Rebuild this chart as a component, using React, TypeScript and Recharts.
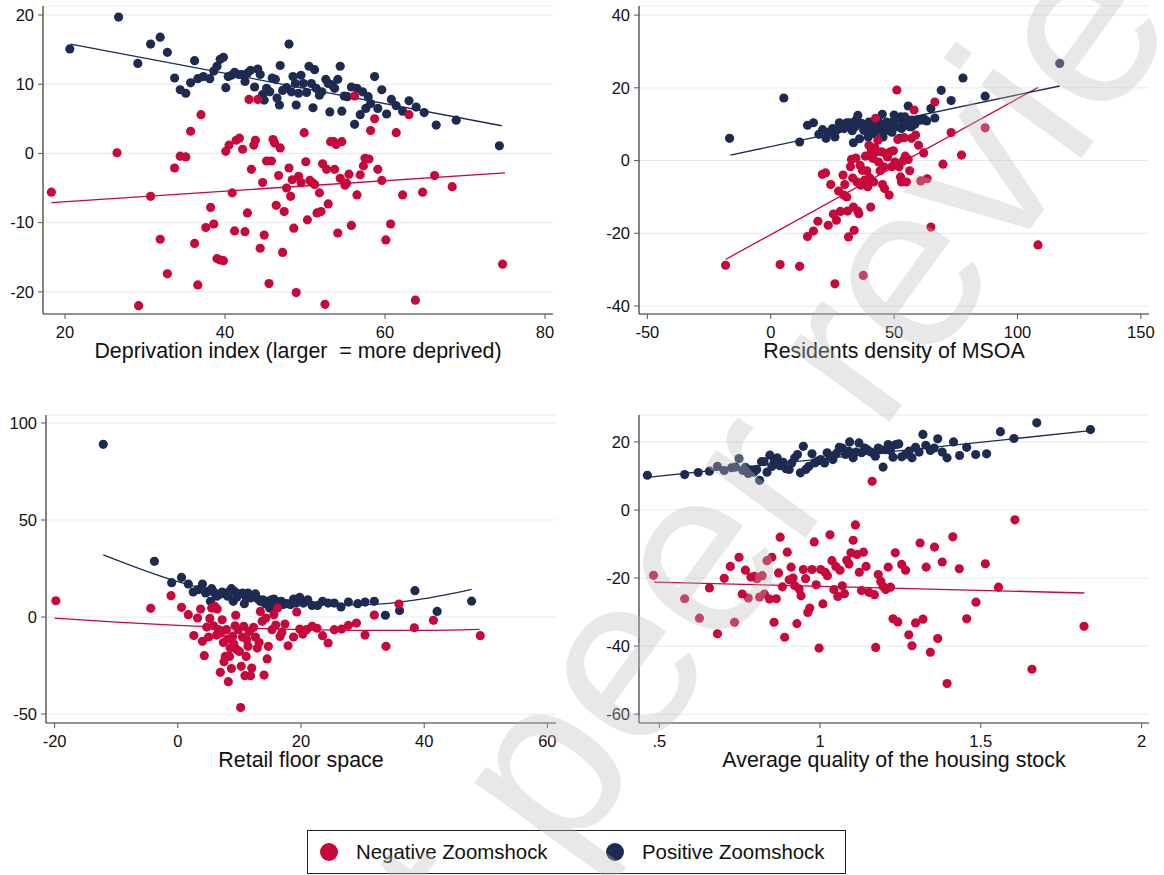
import { ComposedChart, Scatter, Line, XAxis, YAxis, ZAxis, CartesianGrid, Label } from 'recharts';

type Pt = [number, number];

const NEG = '#c8073a';
const POS = '#1d2b52';
const FONT = '"Liberation Sans", Arial, sans-serif';

// Deprivation index panel
const deprivationPos: Pt[] = [
    [20.6, 15.1], [26.7, 19.7], [29.1, 13.0], [30.7, 15.8], [31.9, 16.8], [32.8, 14.6], [33.7, 10.9], [34.4, 9.2],
    [35.1, 8.7], [35.7, 10.2], [36.2, 13.4], [36.6, 10.8], [37.3, 11.1], [38.1, 10.8], [38.6, 11.9], [39.0, 12.6],
    [39.4, 13.6], [39.8, 13.9], [40.1, 9.5], [40.4, 11.1], [40.8, 11.3], [41.2, 11.7], [41.7, 11.4], [42.1, 11.4],
    [42.5, 10.4], [42.8, 11.6], [43.2, 12.0], [43.7, 9.6], [44.1, 12.2], [44.4, 11.4], [44.7, 8.5], [44.9, 7.7],
    [45.2, 9.4], [45.6, 8.9], [45.9, 10.9], [46.3, 10.7], [46.5, 8.0], [46.8, 7.0], [46.9, 12.7], [47.2, 9.1],
    [47.7, 9.5], [48.0, 15.8], [48.3, 8.9], [48.5, 11.1], [48.8, 10.1], [48.9, 7.0], [49.2, 8.7], [49.5, 11.3],
    [49.8, 10.1], [50.2, 8.8], [50.5, 12.6], [50.8, 10.1], [51.0, 6.6], [51.2, 12.1], [51.4, 9.4], [51.8, 8.4],
    [52.1, 8.9], [52.6, 10.7], [52.9, 10.1], [53.1, 6.0], [53.4, 9.9], [53.7, 9.4], [54.1, 10.7], [54.4, 12.6],
    [54.6, 6.1], [54.9, 8.3], [55.3, 8.2], [55.8, 9.6], [56.2, 4.2], [56.5, 9.4], [56.9, 5.6], [57.2, 8.9],
    [57.6, 6.5], [57.9, 8.2], [58.2, 7.2], [58.7, 11.1], [59.1, 6.5], [59.6, 9.2], [60.2, 5.7], [60.8, 7.8],
    [61.4, 6.9], [62.2, 6.1], [63.0, 7.6], [63.9, 6.7], [64.9, 5.9], [66.4, 4.1], [68.9, 4.8], [74.3, 1.1],
];
const deprivationNeg: Pt[] = [
    [18.3, -5.6], [26.5, 0.1], [29.2, -22.0], [30.7, -6.2], [31.9, -12.4], [32.8, -17.4], [33.7, -2.1], [34.4, -0.4],
    [35.1, -0.5], [35.7, 3.2], [36.2, -13.0], [36.6, -19.0], [37.0, 5.6], [37.6, -10.7], [38.2, -7.8], [38.6, -10.2],
    [39.0, -15.2], [39.4, -15.4], [39.8, -15.5], [40.1, 0.3], [40.5, 1.2], [40.9, -5.7], [41.2, -11.2], [41.4, 1.9],
    [41.8, 2.2], [42.2, 0.6], [42.5, -11.3], [42.8, -8.6], [43.0, 7.8], [43.3, -2.3], [43.6, 1.2], [43.8, 1.9],
    [44.1, 7.8], [44.4, -13.7], [44.7, -4.2], [44.9, -11.8], [45.2, -1.1], [45.5, -18.8], [45.8, -1.1], [46.0, 2.0],
    [46.2, 1.5], [46.4, -7.5], [46.7, -3.2], [46.9, 0.8], [47.2, -14.3], [47.4, -8.4], [47.7, -5.0], [48.0, -2.1],
    [48.2, -6.2], [48.4, -3.8], [48.6, -10.8], [48.9, -20.1], [49.2, -3.3], [49.5, -4.2], [49.9, 3.0], [50.1, -1.2],
    [50.3, -9.6], [50.6, -3.9], [50.9, -4.2], [51.2, -4.5], [51.5, -8.6], [51.8, -5.7], [52.0, -8.4], [52.2, -1.5],
    [52.5, -21.8], [52.7, -2.3], [52.9, -7.3], [53.2, 1.7], [53.6, 1.7], [53.9, 1.3], [53.7, -2.3], [54.1, -11.5],
    [54.4, -3.6], [54.6, 1.7], [55.0, -4.6], [55.2, -4.3], [55.5, -3.0], [55.8, -10.4], [56.2, 8.3], [56.5, -6.0],
    [56.9, -3.1], [57.3, -1.8], [57.5, -0.7], [58.0, -0.8], [58.2, 3.3], [58.7, 5.0], [59.1, -2.3], [59.6, -3.9],
    [60.1, -12.5], [60.7, -10.2], [61.4, 3.0], [62.2, -6.0], [63.0, 5.6], [63.8, -21.2], [64.7, -5.6], [66.2, -3.2],
    [68.4, -4.8], [74.7, -16.0],
];
const deprivationPosFit: Pt[] = [[20.7, 15.8], [74.6, 4.0]];
const deprivationNegFit: Pt[] = [[18.3, -7.1], [75.0, -2.8]];

// Residents density panel
const densityPos: Pt[] = [
    [-16.7, 6.1], [5.3, 17.2], [11.7, 5.1], [14.9, 9.7], [17.3, 10.4], [19.5, 7.2], [21.0, 8.5], [22.4, 6.1],
    [23.6, 7.8], [25.1, 8.8], [26.0, 6.5], [27.0, 8.5], [27.8, 10.4], [28.4, 9.4], [29.6, 9.7], [29.7, 8.8],
    [30.8, 10.4], [31.5, 9.7], [32.0, 10.4], [33.0, 8.2], [33.5, 4.9], [34.2, 9.3], [34.5, 11.1], [35.3, 12.4],
    [36.0, 6.0], [36.8, 10.2], [37.5, 9.7], [37.7, 8.3], [38.6, 9.3], [39.5, 6.5], [39.8, 10.6], [40.4, 8.3],
    [41.3, 10.0], [41.7, 10.6], [42.0, 7.4], [42.8, 9.3], [43.7, 10.6], [44.0, 9.4], [44.6, 8.5], [45.2, 12.7],
    [45.5, 6.5], [46.1, 10.0], [46.7, 8.8], [47.0, 10.6], [47.6, 8.3], [48.5, 9.4], [49.1, 7.8], [49.5, 10.6],
    [50.0, 12.5], [50.6, 9.3], [51.5, 11.6], [52.1, 6.1], [52.7, 12.0], [53.0, 8.8], [53.6, 10.0], [54.4, 12.0],
    [55.3, 10.6], [55.7, 15.0], [56.3, 9.3], [57.0, 9.3], [57.2, 11.1], [58.4, 10.0], [59.6, 11.1], [60.8, 11.1],
    [62.0, 11.5], [63.2, 10.9], [64.9, 14.3], [66.5, 11.7], [69.1, 19.3], [73.1, 16.5], [77.9, 22.7], [86.9, 17.7],
    [117.1, 26.7],
];
const densityNeg: Pt[] = [
    [-18.3, -28.8], [3.8, -28.6], [11.7, -29.1], [14.9, -20.9], [17.3, -19.4], [19.1, -16.7], [20.9, -3.8], [22.2, -3.4],
    [23.3, -17.8], [24.3, -6.6], [25.4, -14.7], [26.0, -33.9], [26.6, -16.4], [27.5, -8.4], [28.2, -14.0], [29.3, -4.0],
    [29.6, -9.5], [30.0, -6.6], [30.8, -10.0], [31.1, -13.9], [31.5, -21.0], [32.3, -1.7], [32.7, 0.3], [33.2, -4.8],
    [33.5, -12.8], [33.8, -19.2], [34.5, 0.7], [35.0, -5.9], [35.3, -13.9], [35.7, -14.6], [36.2, -1.3], [36.5, -6.8],
    [37.1, -2.7], [37.5, -31.6], [38.0, -5.4], [38.4, 1.2], [38.9, -2.8], [39.3, -7.2], [39.8, 4.2], [40.1, -4.7],
    [40.5, -12.8], [40.8, 2.8], [41.3, 0.6], [41.7, -5.9], [42.2, 3.5], [42.5, 11.6], [42.8, 2.4], [43.4, 5.6],
    [43.7, -0.4], [44.3, -2.8], [44.9, 2.4], [45.3, -6.6], [45.8, -1.7], [46.1, -7.7], [46.7, 1.9], [47.3, 1.0],
    [48.0, -9.5], [48.5, 2.4], [49.1, -1.7], [49.7, 2.7], [50.3, -0.4], [51.1, 19.4], [51.5, 5.8], [52.0, -1.7],
    [52.6, -4.5], [53.0, -5.9], [53.6, -0.1], [54.1, 6.3], [54.5, 1.2], [55.0, -5.9], [55.7, 0.3], [56.3, -2.8],
    [57.1, 6.1], [58.1, 13.9], [58.7, 7.0], [59.9, 4.2], [60.8, -5.6], [62.0, 2.1], [63.4, -5.0], [64.9, -18.3],
    [66.5, 16.1], [69.8, -1.0], [73.1, 7.7], [77.3, 1.5], [86.9, 9.0], [108.3, -23.2],
];
const densityPosFit: Pt[] = [[-16.4, 1.5], [117.1, 20.5]];
const densityNegFit: Pt[] = [[-18.3, -27.2], [108.3, 20.1]];

// Retail floor space panel
const retailPos: Pt[] = [
    [-12.1, 89.0], [-3.8, 28.7], [-1.0, 17.7], [0.6, 20.4], [1.7, 17.0], [2.5, 12.9], [3.3, 14.1], [4.0, 17.0],
    [4.5, 12.4], [4.9, 13.2], [5.3, 8.1], [5.5, 14.6], [5.9, 12.7], [6.3, 10.7], [6.7, 11.5], [7.2, 12.9],
    [7.6, 12.0], [8.1, 10.7], [8.4, 13.2], [8.7, 14.6], [9.0, 8.1], [9.2, 13.2], [9.6, 10.3], [10.0, 12.0],
    [10.5, 12.4], [10.8, 6.9], [11.0, 10.7], [11.4, 12.4], [11.8, 9.8], [12.2, 10.7], [12.6, 11.9], [13.0, 9.3],
    [13.4, 8.1], [13.8, 8.9], [14.2, 6.9], [14.6, 8.1], [14.9, 4.6], [15.2, 8.9], [15.6, 9.3], [16.0, 6.9],
    [16.4, 7.7], [16.8, 8.1], [17.1, 6.4], [17.7, 6.9], [18.3, 6.4], [18.8, 9.3], [19.2, 7.2], [19.8, 10.1],
    [20.4, 7.2], [21.1, 8.9], [21.8, 6.0], [22.7, 6.0], [23.5, 8.1], [24.4, 7.2], [25.4, 7.2], [26.5, 5.2],
    [27.7, 7.7], [29.2, 6.9], [30.4, 7.7], [31.9, 8.1], [33.7, 0.9], [36.0, 3.3], [38.5, 13.6], [42.1, 2.9],
    [47.7, 8.2],
];
const retailNeg: Pt[] = [
    [-19.8, 8.4], [-4.4, 4.5], [-1.1, 11.0], [0.6, 5.0], [1.7, 1.2], [2.6, -9.5], [3.2, -0.5], [3.7, 4.1],
    [4.0, -12.5], [4.3, -19.9], [4.7, -5.2], [5.0, -10.3], [5.2, -0.7], [5.5, 4.6], [5.8, -4.5], [6.0, 5.5],
    [6.3, -9.3], [6.4, 4.1], [6.6, -6.5], [6.9, -28.5], [7.0, -8.2], [7.2, -1.4], [7.4, -13.1], [7.5, -23.0],
    [7.7, -20.3], [7.9, -6.5], [8.1, -11.3], [8.2, -33.3], [8.4, -20.3], [8.5, -16.0], [8.7, -26.5], [8.9, -10.0],
    [9.1, -13.9], [9.3, -4.5], [9.4, 0.9], [9.6, -16.8], [9.8, -6.5], [10.0, -17.7], [10.2, -46.6], [10.3, -25.4],
    [10.5, -10.3], [10.7, -4.8], [10.9, -30.2], [11.1, -20.3], [11.2, -11.7], [11.4, -15.1], [11.6, -7.4], [11.8, -30.2],
    [12.0, -26.3], [12.3, -5.3], [12.6, -10.3], [12.9, -16.0], [13.2, -13.1], [13.4, 2.9], [13.7, -2.2], [14.0, -29.9],
    [14.3, -0.5], [14.5, -21.6], [14.7, -15.1], [15.3, -6.5], [15.6, 1.2], [15.9, -4.1], [16.2, 4.6], [16.6, -10.0],
    [16.9, -7.9], [17.4, -3.6], [17.9, -14.8], [18.8, -10.3], [19.3, 2.6], [19.8, -6.2], [20.3, -8.8], [20.9, -6.5],
    [21.8, -4.8], [22.6, -5.8], [23.5, -9.6], [24.4, -13.4], [25.4, -6.5], [26.6, -6.2], [27.7, -4.3], [29.0, -3.1],
    [30.4, -9.3], [31.9, 1.0], [33.8, -15.1], [35.9, 6.7], [38.4, -5.5], [41.5, -1.7], [49.1, -9.6],
];
const retailPosFit: Pt[] = [[-12.1, 32.0], [0, 18.2], [10, 10.6], [20, 6.7], [30, 6.3], [40, 9.5], [47.7, 14.3]];
const retailNegFit: Pt[] = [[-20, -0.6], [-10, -2.6], [0, -4.3], [10, -5.6], [20, -6.5], [30, -6.9], [40, -6.9], [49, -6.4]];

// Housing quality panel
const housingPos: Pt[] = [
    [0.463, 10.2], [0.579, 10.4], [0.621, 11.0], [0.656, 11.4], [0.681, 12.8], [0.702, 11.6], [0.725, 12.4], [0.737, 12.6],
    [0.748, 15.1], [0.760, 11.6], [0.768, 12.5], [0.777, 10.7], [0.785, 11.7], [0.794, 11.1], [0.803, 11.9], [0.812, 8.7],
    [0.818, 14.2], [0.826, 14.2], [0.835, 11.1], [0.844, 16.1], [0.850, 12.8], [0.858, 14.3], [0.867, 15.3], [0.875, 13.0],
    [0.885, 14.0], [0.894, 12.1], [0.904, 11.9], [0.912, 13.8], [0.921, 15.3], [0.930, 16.3], [0.939, 10.9], [0.948, 18.7],
    [0.956, 11.9], [0.965, 12.8], [0.975, 16.5], [0.983, 13.8], [0.991, 14.3], [1.002, 14.8], [1.014, 13.8], [1.022, 16.8],
    [1.031, 15.8], [1.040, 14.8], [1.051, 16.6], [1.060, 18.4], [1.069, 18.2], [1.079, 16.3], [1.089, 17.3], [1.092, 20.0],
    [1.103, 15.3], [1.112, 17.0], [1.121, 19.7], [1.129, 16.8], [1.139, 18.2], [1.147, 17.7], [1.158, 17.0], [1.172, 15.8],
    [1.181, 18.2], [1.189, 17.7], [1.196, 12.6], [1.204, 17.7], [1.212, 19.2], [1.219, 17.5], [1.227, 15.5], [1.236, 19.2],
    [1.245, 19.4], [1.254, 15.6], [1.266, 16.3], [1.277, 17.3], [1.286, 15.3], [1.297, 18.4], [1.308, 17.0], [1.320, 22.2],
    [1.329, 19.0], [1.343, 17.5], [1.355, 18.2], [1.366, 20.9], [1.380, 17.0], [1.395, 15.3], [1.415, 20.0], [1.434, 16.0],
    [1.456, 18.4], [1.484, 16.3], [1.518, 16.5], [1.561, 23.0], [1.603, 21.0], [1.674, 25.6], [1.841, 23.6],
];
const housingNeg: Pt[] = [
    [0.482, -19.2], [0.579, -26.1], [0.625, -31.8], [0.656, -22.9], [0.681, -36.4], [0.702, -20.1], [0.721, -16.6], [0.734, -33.0],
    [0.748, -13.9], [0.758, -24.7], [0.768, -17.7], [0.777, -25.9], [0.785, -19.7], [0.797, -19.5], [0.804, -20.2], [0.812, -25.6],
    [0.820, -19.3], [0.827, -24.7], [0.835, -14.9], [0.843, -26.2], [0.850, -13.9], [0.857, -33.0], [0.864, -26.1], [0.871, -18.5],
    [0.876, -8.0], [0.883, -22.6], [0.890, -37.4], [0.898, -12.4], [0.904, -20.5], [0.910, -16.8], [0.916, -20.0], [0.921, -22.2],
    [0.928, -33.4], [0.935, -23.2], [0.941, -25.2], [0.948, -17.5], [0.955, -20.2], [0.962, -30.1], [0.968, -28.8], [0.975, -17.5],
    [0.982, -9.4], [0.988, -22.0], [0.997, -40.6], [1.002, -17.5], [1.009, -27.6], [1.016, -18.3], [1.023, -19.3], [1.031, -7.3],
    [1.037, -14.9], [1.043, -23.4], [1.049, -16.6], [1.055, -25.4], [1.062, -17.7], [1.069, -22.3], [1.076, -24.6], [1.083, -14.8],
    [1.090, -15.9], [1.096, -12.6], [1.103, -8.9], [1.110, -4.4], [1.115, -13.1], [1.122, -18.3], [1.129, -23.7], [1.135, -12.4],
    [1.143, -16.6], [1.152, -24.2], [1.162, 8.4], [1.169, -24.9], [1.173, -40.4], [1.181, -19.0], [1.189, -21.0], [1.196, -22.5],
    [1.204, -23.4], [1.212, -16.8], [1.219, -22.7], [1.227, -32.0], [1.234, -12.6], [1.242, -32.9], [1.254, -16.0], [1.266, -17.7],
    [1.276, -36.7], [1.286, -39.9], [1.297, -33.2], [1.311, -9.7], [1.320, -32.1], [1.330, -16.8], [1.343, -41.8], [1.356, -10.9],
    [1.366, -37.8], [1.380, -15.3], [1.395, -51.0], [1.413, -7.9], [1.433, -17.3], [1.456, -32.0], [1.485, -27.1], [1.514, -15.8],
    [1.555, -22.7], [1.606, -2.9], [1.659, -46.8], [1.821, -34.2],
];
const housingPosFit: Pt[] = [[0.463, 9.6], [1.841, 23.3]];
const housingNegFit: Pt[] = [[0.483, -21.2], [1.822, -24.4]];

const deprivationXTicks = [20, 40, 60, 80];
const deprivationYTicks = [-20, -10, 0, 10, 20];
const densityXTicks = [-50, 0, 50, 100, 150];
const densityYTicks = [-40, -20, 0, 20, 40];
const retailXTicks = [-20, 0, 20, 40, 60];
const retailYTicks = [-50, 0, 50, 100];
const housingXTicks = [0.5, 1, 1.5, 2];
const housingXLabels = ['.5', '1', '1.5', '2'];
const housingYTicks = [-60, -40, -20, 0, 20];

const toXY = (pts: Pt[]) => pts.map(([x, y]) => ({ x, y }));

const Y_W = 50;
const M_TOP = 10;
const M_RIGHT = 14;
const X_H = 60;

type PanelProps = {
    left: number;
    top: number;
    plotW: number;
    plotH: number;
    xDomain: [number, number];
    yDomain: [number, number];
    xTicks: number[];
    yTicks: number[];
    xLabels?: string[];
    title: string;
    neg: Pt[];
    pos: Pt[];
    negFit: Pt[];
    posFit: Pt[];
    curved?: boolean;
};

function Panel(p: PanelProps) {
    const tickStyle = { fontSize: 16.5, fill: '#111', fontFamily: FONT };
    return (
        <div style={{ position: 'absolute', left: p.left - Y_W, top: p.top - M_TOP }}>
            <ComposedChart
                width={Y_W + p.plotW + M_RIGHT}
                height={M_TOP + p.plotH + X_H}
                margin={{ top: M_TOP, right: M_RIGHT, left: 0, bottom: 0 }}
            >
                <CartesianGrid vertical={false} stroke='#e3ecef' strokeWidth={1} />
                <XAxis
                    dataKey='x'
                    type='number'
                    domain={p.xDomain}
                    ticks={p.xTicks}
                    allowDataOverflow
                    height={X_H}
                    tickSize={5}
                    tickMargin={7}
                    tick={tickStyle}
                    tickFormatter={(v: number, i: number) => (p.xLabels ? p.xLabels[i] : String(v))}
                    axisLine={{ stroke: '#333', strokeWidth: 1.2 }}
                    tickLine={{ stroke: '#555' }}
                >
                    <Label
                        value={p.title}
                        position='insideBottom'
                        offset={16}
                        style={{ fontSize: 21.4, fill: '#111', fontFamily: FONT }}
                    />
                </XAxis>
                <YAxis
                    dataKey='y'
                    type='number'
                    domain={p.yDomain}
                    ticks={p.yTicks}
                    allowDataOverflow
                    width={Y_W}
                    tickSize={5}
                    tickMargin={4}
                    tick={tickStyle}
                    axisLine={{ stroke: '#333', strokeWidth: 1.2 }}
                    tickLine={{ stroke: '#555' }}
                />
                <ZAxis type='number' range={[66, 66]} />
                <Scatter data={toXY(p.pos)} fill={POS} isAnimationActive={false} />
                <Scatter data={toXY(p.neg)} fill={NEG} isAnimationActive={false} />
                <Line
                    data={toXY(p.negFit)}
                    dataKey='y'
                    type={p.curved ? 'monotone' : 'linear'}
                    stroke={NEG}
                    strokeWidth={1.3}
                    dot={false}
                    activeDot={false}
                    isAnimationActive={false}
                />
                <Line
                    data={toXY(p.posFit)}
                    dataKey='y'
                    type={p.curved ? 'monotone' : 'linear'}
                    stroke={POS}
                    strokeWidth={1.3}
                    dot={false}
                    activeDot={false}
                    isAnimationActive={false}
                />
            </ComposedChart>
        </div>
    );
}

export default function App() {
    return (
        <div
            style={{
                position: 'absolute',
                left: 0,
                top: 0,
                width: 1164,
                height: 875,
                background: '#fff',
                overflow: 'hidden',
                fontFamily: FONT,
            }}
        >
            <Panel
                left={43} top={6} plotW={510} plotH={308}
                xDomain={[17.25, 81.0]} yDomain={[-23.2, 21.3]}
                xTicks={deprivationXTicks} yTicks={deprivationYTicks}
                title={'Deprivation index (larger \u00a0= more deprived)'}
                neg={deprivationNeg} pos={deprivationPos}
                negFit={deprivationNegFit} posFit={deprivationPosFit}
            />
            <Panel
                left={639} top={6} plotW={510} plotH={308}
                xDomain={[-53.4, 153.3]} yDomain={[-42.2, 42.5]}
                xTicks={densityXTicks} yTicks={densityYTicks}
                title='Residents density of MSOA'
                neg={densityNeg} pos={densityPos}
                negFit={densityNegFit} posFit={densityPosFit}
            />
            <Panel
                left={46} top={415} plotW={510} plotH={308}
                xDomain={[-21.4, 61.4]} yDomain={[-54.6, 104.1]}
                xTicks={retailXTicks} yTicks={retailYTicks}
                title='Retail floor space'
                neg={retailNeg} pos={retailPos}
                negFit={retailNegFit} posFit={retailPosFit}
                curved
            />
            <Panel
                left={639} top={415} plotW={510} plotH={308}
                xDomain={[0.437, 2.023]} yDomain={[-62.6, 27.9]}
                xTicks={housingXTicks} xLabels={housingXLabels} yTicks={housingYTicks}
                title='Average quality of the housing stock'
                neg={housingNeg} pos={housingPos}
                negFit={housingNegFit} posFit={housingPosFit}
            />

            {/* legend */}
            <div
                style={{
                    position: 'absolute',
                    left: 307,
                    top: 830,
                    width: 537,
                    height: 42,
                    border: '1.3px solid #222',
                    fontSize: 20.4,
                    color: '#111',
                }}
            >
                <span style={{ position: 'absolute', left: 12, top: 12, width: 18, height: 18, borderRadius: 9, background: NEG }} />
                <span style={{ position: 'absolute', left: 48, top: 9, lineHeight: '24px' }}>Negative Zoomshock</span>
                <span style={{ position: 'absolute', left: 298, top: 12, width: 18, height: 18, borderRadius: 9, background: POS }} />
                <span style={{ position: 'absolute', left: 334, top: 9, lineHeight: '24px' }}>Positive Zoomshock</span>
            </div>

            {/* watermark */}
            <svg width={1164} height={875} style={{ position: 'absolute', left: 0, top: 0, pointerEvents: 'none' }}>
                <text
                    transform='translate(-187,1904) rotate(-54)'
                    fontSize={235}
                    fontFamily={FONT}
                    fill='#bebebe'
                    fillOpacity={0.35}
                >
                    Preprint not peer reviewed
                </text>
            </svg>
        </div>
    );
}
